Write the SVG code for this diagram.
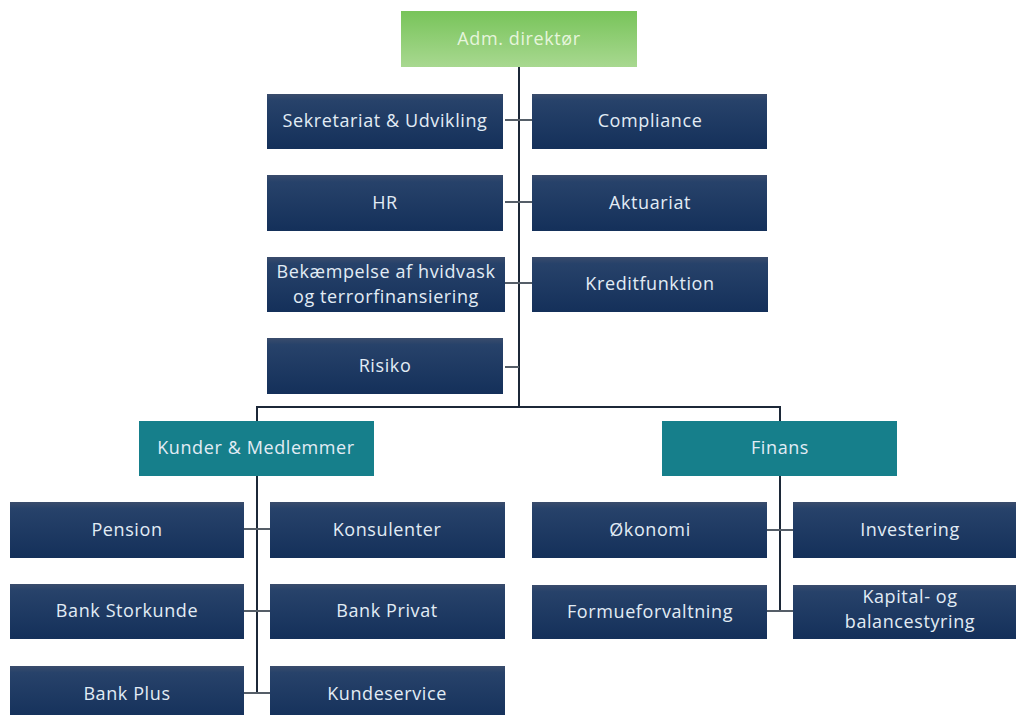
<svg xmlns="http://www.w3.org/2000/svg" width="1016" height="715" viewBox="0 0 1016 715">
<defs>
<linearGradient id="navy" x1="0" y1="0" x2="0" y2="1">
<stop offset="0" stop-color="#3a4c6c"/>
<stop offset="0.12" stop-color="#27426a"/>
<stop offset="1" stop-color="#14305a"/>
</linearGradient>
<linearGradient id="green" x1="0" y1="0" x2="0" y2="1">
<stop offset="0" stop-color="#78c45a"/>
<stop offset="1" stop-color="#a8d890"/>
</linearGradient>
<style>
.box{fill:url(#navy);}
.teal{fill:#167f8b;}
.top{fill:url(#green);}
text{font-family:"Open Sans","Liberation Sans",sans-serif;font-size:18px;font-weight:500;letter-spacing:0.6px;fill:#e2ecf5;text-anchor:middle;}
.g{fill:#e6f5dc;}
.main{stroke:#1c2838;stroke-width:2;fill:none;}
.stub{stroke:#555e68;stroke-width:2;fill:none;}
</style>
</defs>
<rect width="1016" height="715" fill="#ffffff"/>
<g id="connectors">
<path class="main" d="M519 67 V407 M257 422 V407 H780 V422"/>
<path class="stub" d="M505 120 H532 M505 202 H532 M505 283 H532 M505 367 H519"/>
<path class="main" d="M257 476 V693 M780 476 V611"/>
<path class="stub" d="M244 529 H270 M244 611 H270 M244 693 H270"/>
<path class="stub" d="M767 530 H793 M767 611 H793"/>
</g>
<g id="adm"><rect class="top" x="401" y="11" width="236" height="56"/><text class="g" x="519" y="45">Adm. direktør</text></g>
<g id="sekretariat"><rect class="box" x="267" y="94" width="236" height="55"/><text x="385" y="127">Sekretariat &amp; Udvikling</text></g>
<g id="compliance"><rect class="box" x="532" y="94" width="235" height="55"/><text x="650" y="127">Compliance</text></g>
<g id="hr"><rect class="box" x="267" y="175" width="236" height="56"/><text x="385" y="209">HR</text></g>
<g id="aktuariat"><rect class="box" x="532" y="175" width="235" height="56"/><text x="650" y="209">Aktuariat</text></g>
<g id="bekaempelse"><rect class="box" x="267" y="257" width="238" height="55"/><text x="386" y="278">Bekæmpelse af hvidvask</text><text x="386" y="303">og terrorfinansiering</text></g>
<g id="kreditfunktion"><rect class="box" x="532" y="257" width="236" height="55"/><text x="650" y="290">Kreditfunktion</text></g>
<g id="risiko"><rect class="box" x="267" y="338" width="236" height="56"/><text x="385" y="372">Risiko</text></g>
<g id="kunder"><rect class="teal" x="139" y="421" width="235" height="55"/><text x="256" y="454">Kunder &amp; Medlemmer</text></g>
<g id="finans"><rect class="teal" x="662" y="421" width="235" height="55"/><text x="780" y="454">Finans</text></g>
<g id="pension"><rect class="box" x="10" y="502" width="234" height="56"/><text x="127" y="536">Pension</text></g>
<g id="konsulenter"><rect class="box" x="270" y="502" width="235" height="56"/><text x="387" y="536">Konsulenter</text></g>
<g id="storkunde"><rect class="box" x="10" y="584" width="234" height="55"/><text x="127" y="617">Bank Storkunde</text></g>
<g id="privat"><rect class="box" x="270" y="584" width="235" height="55"/><text x="387" y="617">Bank Privat</text></g>
<g id="plus"><rect class="box" x="10" y="666" width="234" height="55"/><text x="127" y="700">Bank Plus</text></g>
<g id="kundeservice"><rect class="box" x="270" y="666" width="235" height="55"/><text x="387" y="700">Kundeservice</text></g>
<g id="okonomi"><rect class="box" x="532" y="502" width="235" height="56"/><text x="650" y="536">Økonomi</text></g>
<g id="investering"><rect class="box" x="793" y="502" width="230" height="56"/><text x="910" y="536">Investering</text></g>
<g id="formue"><rect class="box" x="532" y="585" width="235" height="54"/><text x="650" y="618">Formueforvaltning</text></g>
<g id="kapital"><rect class="box" x="793" y="585" width="230" height="54"/><text x="910" y="603">Kapital- og</text><text x="910" y="628">balancestyring</text></g>
</svg>
